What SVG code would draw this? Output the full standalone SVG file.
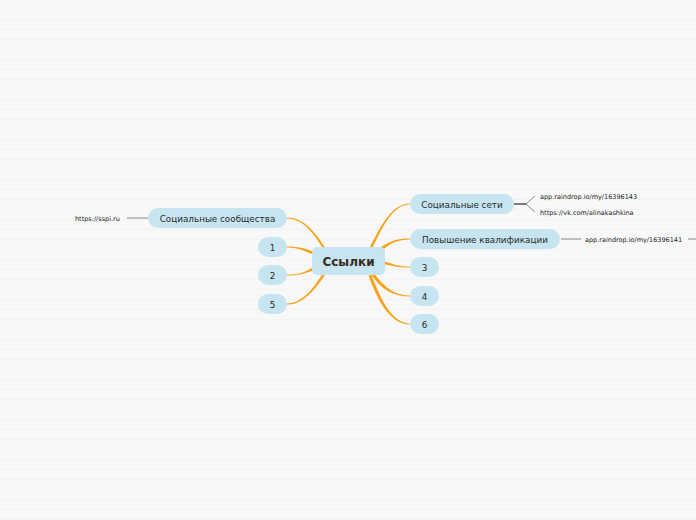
<svg xmlns="http://www.w3.org/2000/svg" width="696" height="520" viewBox="0 0 696 520">
<defs>
<pattern id="stripes" x="0" y="0" width="696" height="10" patternUnits="userSpaceOnUse">
<rect x="0" y="0" width="696" height="10" fill="#f8f8f8"/>
<rect x="0" y="9.5" width="696" height="1" fill="#eeeeee"/>
</pattern>
</defs>
<style>
.pill{fill:#c6e5f0;}
.t{font-family:"DejaVu Sans",Verdana,sans-serif;font-size:8.8px;fill:#2a2a2a;text-anchor:middle;dominant-baseline:central;}
.leaf{font-family:"DejaVu Sans",Verdana,sans-serif;font-size:6.5px;fill:#222;dominant-baseline:central;}
.br{fill:#f7a21b;}
.gl{stroke:#8a8a8a;stroke-width:1;fill:none;}
</style>
<rect width="696" height="520" fill="url(#stripes)"/>
<g id="connectors">
<path class="br" d="M287,217.4 C303.5,217.4 314.5,231 325.5,248 L322.5,248 C313.5,233 302.5,218.6 287,218.6 Z"/>
<path class="br" d="M287,246.5 C300,246.5 306,249 313,251.5 L313,254.5 C305,251.5 300,247.5 287,247.5 Z"/>
<path class="br" d="M287,274.5 C300,274.5 305,272 313,267.5 L313,270.5 C306,273 300,275.5 287,275.5 Z"/>
<path class="br" d="M287,303.4 C302,303.4 313,289 322.5,274 L325.5,274 C315,290 303,304.6 287,304.6 Z"/>
<path class="br" d="M410,203.4 C392,203.4 381,225 369.5,248 L372.5,248 C383,226 393,204.6 410,204.6 Z"/>
<path class="br" d="M410,238.5 C397,238.5 390,241 381,247 L384,249 C391,243 398,239.5 410,239.5 Z"/>
<path class="br" d="M410,266.5 C398,266.5 393,264 385,261.5 L385,264.5 C393,266 398,267.5 410,267.5 Z"/>
<path class="br" d="M410,295.5 C395,295.5 385,288 374.5,274 L371.5,275 C382,290 394,296.5 410,296.5 Z"/>
<path class="br" d="M410,323.4 C392,323.4 381,300 371.5,275 L368.5,275.5 C378,302 391,324.6 410,324.6 Z"/>
<line class="gl" x1="127" y1="218" x2="148" y2="218"/>
<line x1="514" y1="204" x2="526" y2="204" stroke="#555" stroke-width="1.5"/>
<path class="gl" d="M526,204 L535,196 M526,204 L535,212"/>
<line class="gl" x1="561" y1="239" x2="581" y2="239"/>
<line class="gl" x1="688" y1="239" x2="700" y2="239"/>
</g>
<g id="center">
<rect class="pill" x="312" y="247" width="73" height="28" rx="5"/>
<text x="348.5" y="262" class="t" style="font-size:12px;font-weight:bold;fill:#3a2a20">Ссылки</text>
</g>
<g id="n-soc-comm">
<rect class="pill" x="148" y="208" width="139" height="20" rx="10"/>
<text x="217.5" y="218.7" class="t">Социальные сообщества</text>
</g>
<g id="n-1"><rect class="pill" x="258" y="237" width="29" height="20" rx="10"/><text x="272.5" y="247.7" class="t">1</text></g>
<g id="n-2"><rect class="pill" x="258" y="265" width="29" height="20" rx="10"/><text x="272.5" y="275.7" class="t">2</text></g>
<g id="n-5"><rect class="pill" x="258" y="294" width="29" height="20" rx="10"/><text x="272.5" y="304.7" class="t">5</text></g>
<g id="n-soc-net">
<rect class="pill" x="410" y="194" width="104" height="20" rx="10"/>
<text x="462" y="204.7" class="t">Социальные сети</text>
</g>
<g id="n-qual">
<rect class="pill" x="410" y="229" width="150" height="20" rx="10"/>
<text x="485" y="239.7" class="t">Повышение квалификации</text>
</g>
<g id="n-3"><rect class="pill" x="410" y="257" width="29" height="20" rx="10"/><text x="424.5" y="267.7" class="t">3</text></g>
<g id="n-4"><rect class="pill" x="410" y="286" width="29" height="20" rx="10"/><text x="424.5" y="296.7" class="t">4</text></g>
<g id="n-6"><rect class="pill" x="410" y="314" width="29" height="20" rx="10"/><text x="424.5" y="324.7" class="t">6</text></g>
<g id="leaf-sspi"><text x="75" y="218.5" class="leaf">https://sspi.ru</text></g>
<g id="leaf-rd1"><text x="540" y="196.5" class="leaf">app.raindrop.io/my/16396143</text></g>
<g id="leaf-vk"><text x="540" y="213" class="leaf">https://vk.com/alinakashkina</text></g>
<g id="leaf-rd2"><text x="585" y="239.5" class="leaf">app.raindrop.io/my/16396141</text></g>
</svg>
